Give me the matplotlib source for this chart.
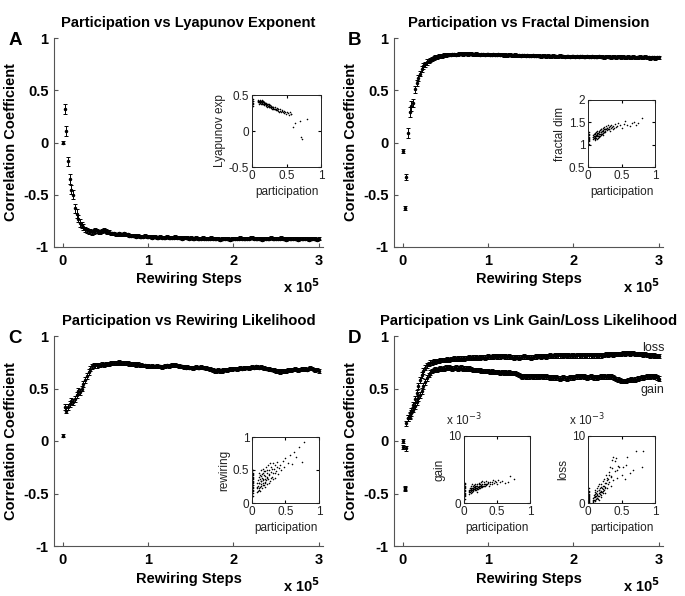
import numpy as np
import matplotlib
matplotlib.use('Agg')
import matplotlib.pyplot as plt

plt.rcParams['font.family'] = ['Liberation Sans', 'DejaVu Sans']

# rewiring step of each sample (every 2000 steps)
steps = np.arange(151) * 2000

lyap_mean = [
    0.00, 0.32, 0.11, -0.18, -0.35, -0.45, -0.50, -0.63, -0.68, -0.73, -0.77, -0.79, -0.81, -0.83, -0.84, -0.85, -0.85, -0.86, -0.85, -0.84,
    -0.85, -0.86, -0.86, -0.85, -0.84, -0.85, -0.86, -0.86, -0.87, -0.87, -0.87, -0.88, -0.88, -0.87, -0.88, -0.88, -0.87, -0.88, -0.88, -0.89,
    -0.89, -0.89, -0.89, -0.90, -0.89, -0.90, -0.90, -0.90, -0.89, -0.90, -0.90, -0.90, -0.91, -0.90, -0.90, -0.91, -0.91, -0.90, -0.91, -0.91,
    -0.91, -0.90, -0.91, -0.91, -0.91, -0.91, -0.90, -0.91, -0.91, -0.91, -0.92, -0.91, -0.91, -0.91, -0.92, -0.91, -0.92, -0.92, -0.91, -0.92,
    -0.92, -0.92, -0.91, -0.92, -0.92, -0.92, -0.92, -0.91, -0.92, -0.92, -0.92, -0.92, -0.93, -0.92, -0.92, -0.92, -0.92, -0.92, -0.93, -0.92,
    -0.92, -0.92, -0.92, -0.92, -0.91, -0.92, -0.92, -0.92, -0.92, -0.92, -0.91, -0.91, -0.92, -0.92, -0.92, -0.92, -0.92, -0.93, -0.92, -0.92,
    -0.92, -0.92, -0.91, -0.92, -0.92, -0.92, -0.92, -0.92, -0.91, -0.92, -0.92, -0.93, -0.92, -0.92, -0.92, -0.92, -0.92, -0.92, -0.93, -0.92,
    -0.92, -0.92, -0.92, -0.92, -0.93, -0.92, -0.92, -0.92, -0.92, -0.93, -0.92]
lyap_err = [
    0.015, 0.045, 0.05, 0.045, 0.045, 0.045, 0.045, 0.04, 0.04, 0.035, 0.035, 0.03, 0.03, 0.025, 0.025, 0.022, 0.022, 0.022, 0.022, 0.022,
    0.02, 0.02, 0.02, 0.02, 0.02, 0.018, 0.018, 0.018, 0.016, 0.016, 0.016, 0.016, 0.016, 0.016, 0.016, 0.016, 0.016, 0.016, 0.016, 0.016,
    0.016, 0.016, 0.016, 0.016, 0.016, 0.016, 0.016, 0.016, 0.016, 0.016, 0.016, 0.016, 0.016, 0.016, 0.016, 0.016, 0.016, 0.016, 0.016, 0.016,
    0.016, 0.016, 0.016, 0.016, 0.016, 0.016, 0.016, 0.016, 0.016, 0.016, 0.016, 0.016, 0.016, 0.016, 0.016, 0.016, 0.016, 0.016, 0.016, 0.016,
    0.016, 0.016, 0.016, 0.016, 0.016, 0.016, 0.016, 0.016, 0.016, 0.016, 0.016, 0.016, 0.016, 0.016, 0.016, 0.016, 0.016, 0.016, 0.016, 0.016,
    0.016, 0.016, 0.016, 0.016, 0.016, 0.016, 0.016, 0.016, 0.016, 0.016, 0.016, 0.016, 0.016, 0.016, 0.016, 0.016, 0.016, 0.016, 0.016, 0.016,
    0.016, 0.016, 0.016, 0.016, 0.016, 0.016, 0.016, 0.016, 0.016, 0.016, 0.016, 0.016, 0.016, 0.016, 0.016, 0.016, 0.016, 0.016, 0.016, 0.016,
    0.016, 0.016, 0.016, 0.016, 0.016, 0.016, 0.016, 0.016, 0.016, 0.016, 0.016]

frac_mean = [
    -0.08, -0.63, -0.33, 0.09, 0.29, 0.35, 0.38, 0.51, 0.57, 0.62, 0.66, 0.70, 0.73, 0.75, 0.77, 0.78, 0.79, 0.80, 0.81, 0.815,
    0.82, 0.825, 0.83, 0.83, 0.835, 0.835, 0.84, 0.84, 0.84, 0.845, 0.845, 0.84, 0.845, 0.85, 0.85, 0.845, 0.85, 0.85, 0.845, 0.85,
    0.85, 0.845, 0.845, 0.85, 0.845, 0.84, 0.845, 0.845, 0.84, 0.845, 0.845, 0.84, 0.84, 0.845, 0.84, 0.84, 0.845, 0.84, 0.84, 0.835,
    0.84, 0.835, 0.84, 0.84, 0.835, 0.835, 0.84, 0.835, 0.835, 0.83, 0.835, 0.835, 0.83, 0.835, 0.83, 0.83, 0.835, 0.83, 0.83, 0.83,
    0.83, 0.825, 0.83, 0.83, 0.825, 0.83, 0.825, 0.825, 0.83, 0.825, 0.825, 0.825, 0.83, 0.825, 0.825, 0.82, 0.825, 0.825, 0.82, 0.825,
    0.825, 0.82, 0.825, 0.82, 0.825, 0.825, 0.82, 0.82, 0.825, 0.82, 0.82, 0.825, 0.82, 0.82, 0.82, 0.825, 0.82, 0.82, 0.815, 0.82,
    0.82, 0.82, 0.815, 0.82, 0.82, 0.815, 0.82, 0.82, 0.815, 0.82, 0.815, 0.815, 0.82, 0.815, 0.815, 0.82, 0.815, 0.815, 0.815, 0.82,
    0.815, 0.815, 0.82, 0.815, 0.815, 0.81, 0.815, 0.815, 0.81, 0.815, 0.815]
frac_err = [
    0.02, 0.02, 0.025, 0.05, 0.045, 0.045, 0.04, 0.035, 0.03, 0.028, 0.028, 0.028, 0.028, 0.025, 0.025, 0.022, 0.022, 0.022, 0.022, 0.02,
    0.02, 0.018, 0.018, 0.018, 0.018, 0.016, 0.016, 0.016, 0.016, 0.016, 0.016, 0.016, 0.016, 0.016, 0.016, 0.016, 0.016, 0.016, 0.016, 0.016,
    0.016, 0.016, 0.016, 0.016, 0.016, 0.016, 0.016, 0.016, 0.016, 0.016, 0.016, 0.016, 0.016, 0.016, 0.016, 0.016, 0.016, 0.016, 0.016, 0.016,
    0.016, 0.016, 0.016, 0.016, 0.016, 0.016, 0.016, 0.016, 0.016, 0.016, 0.016, 0.016, 0.016, 0.016, 0.016, 0.016, 0.016, 0.016, 0.016, 0.016,
    0.016, 0.016, 0.016, 0.016, 0.016, 0.016, 0.016, 0.016, 0.016, 0.016, 0.016, 0.016, 0.016, 0.016, 0.016, 0.016, 0.016, 0.016, 0.016, 0.016,
    0.016, 0.016, 0.016, 0.016, 0.016, 0.016, 0.016, 0.016, 0.016, 0.016, 0.016, 0.016, 0.016, 0.016, 0.016, 0.016, 0.016, 0.016, 0.016, 0.016,
    0.016, 0.016, 0.016, 0.016, 0.016, 0.016, 0.016, 0.016, 0.016, 0.016, 0.016, 0.016, 0.016, 0.016, 0.016, 0.016, 0.016, 0.016, 0.016, 0.016,
    0.016, 0.016, 0.016, 0.016, 0.016, 0.016, 0.016, 0.016, 0.016, 0.016, 0.016]

rew_mean = [
    0.05, 0.32, 0.29, 0.32, 0.35, 0.38, 0.37, 0.40, 0.44, 0.48, 0.47, 0.50, 0.54, 0.58, 0.62, 0.66, 0.69, 0.71, 0.72, 0.72,
    0.72, 0.725, 0.72, 0.73, 0.725, 0.73, 0.735, 0.73, 0.74, 0.74, 0.745, 0.74, 0.745, 0.75, 0.745, 0.74, 0.74, 0.745, 0.74, 0.735,
    0.735, 0.73, 0.73, 0.725, 0.73, 0.72, 0.725, 0.72, 0.72, 0.715, 0.715, 0.71, 0.715, 0.71, 0.71, 0.715, 0.71, 0.71, 0.705, 0.71,
    0.715, 0.72, 0.715, 0.72, 0.725, 0.72, 0.725, 0.72, 0.715, 0.71, 0.71, 0.705, 0.70, 0.705, 0.70, 0.70, 0.695, 0.70, 0.705, 0.70,
    0.70, 0.705, 0.70, 0.70, 0.695, 0.69, 0.685, 0.68, 0.675, 0.67, 0.67, 0.675, 0.67, 0.67, 0.675, 0.68, 0.675, 0.68, 0.685, 0.685,
    0.69, 0.69, 0.685, 0.69, 0.695, 0.69, 0.695, 0.70, 0.70, 0.695, 0.70, 0.705, 0.70, 0.71, 0.705, 0.70, 0.705, 0.70, 0.695, 0.69,
    0.69, 0.685, 0.68, 0.68, 0.675, 0.67, 0.665, 0.66, 0.665, 0.67, 0.665, 0.67, 0.675, 0.68, 0.675, 0.68, 0.685, 0.68, 0.675, 0.68,
    0.685, 0.69, 0.685, 0.68, 0.69, 0.695, 0.69, 0.68, 0.675, 0.68, 0.67]
rew_err = [
    0.012, 0.028, 0.028, 0.028, 0.028, 0.028, 0.028, 0.028, 0.028, 0.028, 0.028, 0.028, 0.028, 0.028, 0.028, 0.028, 0.025, 0.022, 0.022, 0.022,
    0.02, 0.018, 0.018, 0.018, 0.018, 0.018, 0.018, 0.018, 0.018, 0.018, 0.018, 0.018, 0.018, 0.018, 0.018, 0.018, 0.018, 0.018, 0.018, 0.018,
    0.018, 0.018, 0.018, 0.018, 0.018, 0.018, 0.018, 0.018, 0.018, 0.018, 0.018, 0.018, 0.018, 0.018, 0.018, 0.018, 0.018, 0.018, 0.018, 0.018,
    0.018, 0.018, 0.018, 0.018, 0.018, 0.018, 0.018, 0.018, 0.018, 0.018, 0.018, 0.018, 0.018, 0.018, 0.018, 0.018, 0.018, 0.018, 0.018, 0.018,
    0.018, 0.018, 0.018, 0.018, 0.018, 0.018, 0.018, 0.018, 0.018, 0.018, 0.018, 0.018, 0.018, 0.018, 0.018, 0.018, 0.018, 0.018, 0.018, 0.018,
    0.018, 0.018, 0.018, 0.018, 0.018, 0.018, 0.018, 0.018, 0.018, 0.018, 0.018, 0.018, 0.018, 0.018, 0.018, 0.018, 0.018, 0.018, 0.018, 0.018,
    0.018, 0.018, 0.018, 0.018, 0.018, 0.018, 0.018, 0.018, 0.018, 0.018, 0.018, 0.018, 0.018, 0.018, 0.018, 0.018, 0.018, 0.018, 0.018, 0.018,
    0.018, 0.018, 0.018, 0.018, 0.018, 0.018, 0.018, 0.018, 0.018, 0.018, 0.018]

loss_mean = [
    0.00, -0.46, -0.07, 0.22, 0.25, 0.29, 0.34, 0.40, 0.46, 0.52, 0.58, 0.63, 0.67, 0.70, 0.72, 0.735, 0.745, 0.75, 0.755, 0.76,
    0.76, 0.765, 0.77, 0.77, 0.775, 0.775, 0.78, 0.775, 0.78, 0.78, 0.785, 0.78, 0.785, 0.79, 0.785, 0.79, 0.785, 0.79, 0.79, 0.795,
    0.79, 0.795, 0.80, 0.795, 0.79, 0.795, 0.80, 0.80, 0.795, 0.80, 0.805, 0.80, 0.80, 0.805, 0.81, 0.805, 0.80, 0.805, 0.81, 0.81,
    0.805, 0.80, 0.805, 0.80, 0.80, 0.795, 0.80, 0.80, 0.795, 0.80, 0.80, 0.805, 0.80, 0.80, 0.80, 0.795, 0.80, 0.80, 0.805, 0.81,
    0.81, 0.805, 0.81, 0.81, 0.805, 0.81, 0.815, 0.81, 0.81, 0.815, 0.81, 0.815, 0.815, 0.81, 0.815, 0.82, 0.815, 0.815, 0.81, 0.815,
    0.815, 0.81, 0.815, 0.815, 0.81, 0.815, 0.815, 0.82, 0.815, 0.815, 0.815, 0.81, 0.815, 0.815, 0.82, 0.815, 0.815, 0.82, 0.82, 0.825,
    0.82, 0.825, 0.825, 0.82, 0.825, 0.83, 0.825, 0.83, 0.83, 0.835, 0.83, 0.835, 0.835, 0.83, 0.835, 0.835, 0.83, 0.83, 0.825, 0.83,
    0.825, 0.82, 0.825, 0.82, 0.82, 0.815, 0.82, 0.815, 0.81, 0.81, 0.81]
gain_mean = [
    -0.06, -0.45, 0.17, 0.22, 0.24, 0.27, 0.30, 0.33, 0.37, 0.41, 0.44, 0.48, 0.52, 0.56, 0.60, 0.63, 0.65, 0.665, 0.675, 0.68,
    0.68, 0.685, 0.69, 0.685, 0.69, 0.70, 0.695, 0.70, 0.695, 0.69, 0.695, 0.70, 0.69, 0.695, 0.70, 0.69, 0.695, 0.69, 0.685, 0.69,
    0.685, 0.68, 0.68, 0.675, 0.68, 0.675, 0.67, 0.67, 0.665, 0.67, 0.665, 0.66, 0.665, 0.66, 0.655, 0.66, 0.655, 0.65, 0.655, 0.65,
    0.655, 0.65, 0.655, 0.65, 0.645, 0.65, 0.645, 0.64, 0.63, 0.62, 0.615, 0.62, 0.615, 0.61, 0.615, 0.62, 0.615, 0.61, 0.615, 0.62,
    0.615, 0.62, 0.615, 0.61, 0.615, 0.61, 0.605, 0.61, 0.605, 0.60, 0.605, 0.60, 0.595, 0.60, 0.605, 0.60, 0.595, 0.60, 0.605, 0.60,
    0.605, 0.61, 0.615, 0.61, 0.615, 0.62, 0.615, 0.61, 0.605, 0.61, 0.615, 0.61, 0.605, 0.60, 0.605, 0.61, 0.615, 0.62, 0.615, 0.61,
    0.615, 0.62, 0.615, 0.61, 0.60, 0.59, 0.585, 0.58, 0.575, 0.57, 0.57, 0.575, 0.58, 0.58, 0.585, 0.58, 0.585, 0.59, 0.595, 0.60,
    0.605, 0.60, 0.61, 0.615, 0.62, 0.615, 0.62, 0.61, 0.62, 0.605, 0.595]
link_err = [
    0.02, 0.02, 0.025, 0.028, 0.028, 0.028, 0.028, 0.028, 0.028, 0.028, 0.028, 0.028, 0.028, 0.028, 0.025, 0.022, 0.022, 0.022, 0.022, 0.022,
    0.02, 0.02, 0.02, 0.02, 0.02, 0.02, 0.02, 0.02, 0.02, 0.02, 0.02, 0.02, 0.02, 0.02, 0.02, 0.02, 0.02, 0.02, 0.02, 0.02,
    0.02, 0.02, 0.02, 0.02, 0.02, 0.02, 0.02, 0.02, 0.02, 0.02, 0.02, 0.02, 0.02, 0.02, 0.02, 0.02, 0.02, 0.02, 0.02, 0.02,
    0.02, 0.02, 0.02, 0.02, 0.02, 0.02, 0.02, 0.02, 0.02, 0.02, 0.02, 0.02, 0.02, 0.02, 0.02, 0.02, 0.02, 0.02, 0.02, 0.02,
    0.02, 0.02, 0.02, 0.02, 0.02, 0.02, 0.02, 0.02, 0.02, 0.02, 0.02, 0.02, 0.02, 0.02, 0.02, 0.02, 0.02, 0.02, 0.02, 0.02,
    0.02, 0.02, 0.02, 0.02, 0.02, 0.02, 0.02, 0.02, 0.02, 0.02, 0.02, 0.02, 0.02, 0.02, 0.02, 0.02, 0.02, 0.02, 0.02, 0.02,
    0.02, 0.02, 0.02, 0.02, 0.02, 0.02, 0.02, 0.02, 0.02, 0.02, 0.02, 0.02, 0.02, 0.02, 0.02, 0.02, 0.02, 0.02, 0.02, 0.02,
    0.02, 0.02, 0.02, 0.02, 0.02, 0.02, 0.02, 0.02, 0.02, 0.02, 0.02]

# inset scatters: (participation, value)
lyap_pts = [
    (0.01, 0.42), (0.01, 0.39), (0.02, 0.37), (0.01, 0.35), (0.02, 0.41), (0.01, 0.44),
    (0.08, 0.43), (0.09, 0.41), (0.10, 0.42), (0.10, 0.40), (0.11, 0.43), (0.12, 0.41), (0.12, 0.39), (0.13, 0.42),
    (0.13, 0.40), (0.14, 0.38), (0.14, 0.41), (0.15, 0.39), (0.15, 0.42), (0.16, 0.38), (0.16, 0.40), (0.17, 0.37),
    (0.17, 0.40), (0.18, 0.38), (0.18, 0.36), (0.19, 0.39), (0.20, 0.37), (0.20, 0.35), (0.21, 0.38), (0.22, 0.36),
    (0.22, 0.34), (0.23, 0.37), (0.24, 0.35), (0.24, 0.33), (0.25, 0.36), (0.26, 0.34), (0.27, 0.32), (0.28, 0.35),
    (0.28, 0.33), (0.29, 0.31), (0.30, 0.34), (0.31, 0.32), (0.32, 0.30), (0.33, 0.33), (0.34, 0.31), (0.35, 0.29),
    (0.36, 0.32), (0.37, 0.30), (0.38, 0.28), (0.40, 0.30), (0.41, 0.28), (0.43, 0.29), (0.45, 0.27), (0.47, 0.28),
    (0.48, 0.26), (0.50, 0.27), (0.52, 0.25), (0.55, 0.26), (0.57, 0.24), (0.60, 0.06), (0.62, 0.11), (0.69, 0.14),
    (0.71, -0.09), (0.72, -0.11), (0.79, 0.17), (0.11, 0.40), (0.12, 0.42), (0.14, 0.43), (0.09, 0.40), (0.10, 0.38),
    (0.09, 0.42), (0.11, 0.39), (0.13, 0.38), (0.15, 0.40), (0.16, 0.42), (0.17, 0.39), (0.18, 0.40), (0.19, 0.37),
    (0.20, 0.39), (0.21, 0.36), (0.22, 0.38), (0.23, 0.35), (0.24, 0.37), (0.25, 0.34), (0.26, 0.36), (0.27, 0.35),
    (0.29, 0.33), (0.30, 0.31), (0.31, 0.34), (0.33, 0.31), (0.35, 0.31), (0.36, 0.29), (0.38, 0.31), (0.39, 0.27),
    (0.42, 0.26), (0.44, 0.28), (0.46, 0.25), (0.49, 0.24), (0.53, 0.22), (0.56, 0.23)]
frac_pts = [
    (0.01, 1.02), (0.01, 1.08), (0.01, 1.13), (0.01, 1.18), (0.01, 1.24), (0.02, 1.10), (0.01, 1.28),
    (0.07, 1.18), (0.08, 1.12), (0.08, 1.22), (0.09, 1.15), (0.09, 1.25), (0.10, 1.20), (0.10, 1.13), (0.11, 1.27),
    (0.11, 1.18), (0.12, 1.22), (0.12, 1.14), (0.13, 1.25), (0.13, 1.19), (0.14, 1.30), (0.14, 1.21), (0.15, 1.16),
    (0.15, 1.26), (0.16, 1.23), (0.16, 1.31), (0.17, 1.19), (0.17, 1.28), (0.18, 1.24), (0.18, 1.33), (0.19, 1.21),
    (0.20, 1.29), (0.20, 1.35), (0.21, 1.25), (0.22, 1.31), (0.22, 1.38), (0.23, 1.27), (0.24, 1.34), (0.24, 1.40),
    (0.25, 1.30), (0.26, 1.36), (0.27, 1.42), (0.28, 1.32), (0.29, 1.38), (0.30, 1.44), (0.31, 1.35), (0.32, 1.40),
    (0.33, 1.30), (0.34, 1.45), (0.35, 1.37), (0.37, 1.42), (0.38, 1.34), (0.40, 1.46), (0.42, 1.40), (0.45, 1.48),
    (0.48, 1.43), (0.50, 1.38), (0.53, 1.47), (0.58, 1.45), (0.63, 1.42), (0.68, 1.50), (0.72, 1.44), (0.75, 1.48),
    (0.81, 1.60), (0.10, 1.10), (0.12, 1.28), (0.14, 1.12), (0.19, 1.36), (0.23, 1.22), (0.26, 1.28),
    (0.08, 1.17), (0.09, 1.20), (0.10, 1.24), (0.11, 1.14), (0.12, 1.19), (0.13, 1.22), (0.14, 1.26), (0.15, 1.20),
    (0.16, 1.18), (0.17, 1.24), (0.18, 1.20), (0.19, 1.28), (0.20, 1.24), (0.21, 1.31), (0.22, 1.27), (0.23, 1.33),
    (0.24, 1.29), (0.25, 1.36), (0.27, 1.34), (0.28, 1.38), (0.30, 1.36), (0.32, 1.34), (0.33, 1.41), (0.36, 1.40),
    (0.39, 1.38), (0.01, 1.15), (0.01, 1.21), (0.44, 1.42), (0.55, 1.52), (0.65, 1.48)]
rew_pts = [
    (0.01, 0.10), (0.01, 0.15), (0.01, 0.20), (0.01, 0.25), (0.01, 0.30), (0.01, 0.34), (0.01, 0.38), (0.01, 0.42),
    (0.01, 0.46), (0.02, 0.28), (0.02, 0.36),
    (0.07, 0.22), (0.08, 0.30), (0.08, 0.16), (0.09, 0.35), (0.09, 0.26), (0.10, 0.40), (0.10, 0.20), (0.11, 0.31),
    (0.11, 0.45), (0.12, 0.25), (0.12, 0.36), (0.13, 0.29), (0.13, 0.50), (0.14, 0.33), (0.14, 0.41), (0.15, 0.22),
    (0.15, 0.38), (0.16, 0.46), (0.16, 0.30), (0.17, 0.35), (0.17, 0.52), (0.18, 0.27), (0.18, 0.42), (0.19, 0.37),
    (0.20, 0.48), (0.20, 0.32), (0.21, 0.55), (0.22, 0.40), (0.22, 0.29), (0.23, 0.45), (0.24, 0.36), (0.24, 0.58),
    (0.25, 0.42), (0.26, 0.50), (0.27, 0.33), (0.28, 0.47), (0.29, 0.55), (0.30, 0.40), (0.31, 0.60), (0.32, 0.45),
    (0.33, 0.52), (0.34, 0.38), (0.35, 0.57), (0.36, 0.48), (0.38, 0.62), (0.39, 0.44), (0.40, 0.53), (0.42, 0.58),
    (0.44, 0.50), (0.46, 0.63), (0.48, 0.55), (0.50, 0.68), (0.53, 0.60), (0.57, 0.72), (0.60, 0.59), (0.62, 0.77),
    (0.66, 0.70), (0.70, 0.85), (0.74, 0.62), (0.78, 0.92), (0.12, 0.18), (0.19, 0.24), (0.27, 0.60),
    (0.01, 0.18), (0.01, 0.23), (0.01, 0.28), (0.01, 0.32), (0.01, 0.40), (0.01, 0.44), (0.01, 0.50), (0.08, 0.24),
    (0.09, 0.18), (0.10, 0.30), (0.11, 0.22), (0.12, 0.42), (0.13, 0.34), (0.14, 0.26), (0.15, 0.44), (0.16, 0.36),
    (0.17, 0.28), (0.18, 0.48), (0.19, 0.31), (0.20, 0.41), (0.21, 0.35), (0.22, 0.50), (0.23, 0.38), (0.25, 0.30),
    (0.26, 0.44), (0.28, 0.38), (0.30, 0.52), (0.32, 0.36), (0.35, 0.46), (0.37, 0.54)]
# gain / loss in units of 1e-3
gain_pts = [
    (0.01, 0.6), (0.01, 1.0), (0.01, 1.4), (0.01, 1.8), (0.01, 2.2), (0.01, 2.6), (0.01, 3.0), (0.02, 1.5), (0.02, 2.0),
    (0.07, 1.6), (0.08, 2.0), (0.08, 1.3), (0.09, 2.3), (0.09, 1.7), (0.10, 2.1), (0.10, 1.5), (0.11, 2.5), (0.11, 1.9),
    (0.12, 2.2), (0.12, 1.6), (0.13, 2.6), (0.13, 2.0), (0.14, 2.3), (0.14, 1.8), (0.15, 2.7), (0.15, 2.1), (0.16, 2.4),
    (0.16, 1.9), (0.17, 2.8), (0.17, 2.2), (0.18, 2.5), (0.18, 2.0), (0.19, 2.9), (0.20, 2.3), (0.20, 2.6), (0.21, 2.1),
    (0.22, 2.8), (0.22, 2.4), (0.23, 3.0), (0.24, 2.5), (0.24, 2.2), (0.25, 2.7), (0.26, 3.1), (0.27, 2.4), (0.28, 2.8),
    (0.29, 2.6), (0.30, 3.2), (0.31, 2.5), (0.32, 2.9), (0.33, 2.7), (0.34, 3.3), (0.35, 2.8), (0.37, 3.0), (0.38, 2.6),
    (0.40, 3.1), (0.42, 2.9), (0.44, 3.4), (0.46, 3.0), (0.48, 3.2), (0.50, 2.8), (0.52, 3.5), (0.55, 3.1), (0.58, 3.3),
    (0.62, 3.0), (0.67, 3.1), (0.70, 4.0), (0.75, 3.6), (0.12, 2.9), (0.19, 1.7), (0.27, 3.3),
    (0.01, 1.2), (0.01, 2.4), (0.01, 2.8), (0.08, 1.8), (0.09, 2.0), (0.10, 1.8), (0.11, 2.2), (0.12, 1.9),
    (0.13, 2.3), (0.14, 2.1), (0.15, 2.4), (0.16, 2.1), (0.17, 2.5), (0.18, 2.3), (0.19, 2.6), (0.20, 2.1),
    (0.21, 2.4), (0.22, 2.6), (0.23, 2.3), (0.24, 2.8), (0.25, 2.4), (0.26, 2.6), (0.28, 2.5), (0.30, 2.8),
    (0.32, 2.6), (0.34, 2.9), (0.36, 3.1), (0.39, 2.8), (0.43, 3.1), (0.47, 3.3)]
loss_pts = [
    (0.01, 0.2), (0.01, 0.5), (0.01, 0.8), (0.01, 1.1), (0.01, 1.4), (0.01, 1.8), (0.01, 2.2), (0.02, 0.6), (0.02, 1.2),
    (0.07, 0.3), (0.08, 0.8), (0.08, 0.1), (0.09, 1.2), (0.09, 0.5), (0.10, 1.6), (0.10, 0.9), (0.11, 0.3), (0.11, 1.9),
    (0.12, 1.1), (0.12, 0.6), (0.13, 2.2), (0.13, 1.4), (0.14, 0.8), (0.14, 1.8), (0.15, 2.5), (0.15, 1.0), (0.16, 1.5),
    (0.16, 0.4), (0.17, 2.0), (0.17, 2.8), (0.18, 1.3), (0.18, 2.3), (0.19, 0.9), (0.20, 1.8), (0.20, 2.9), (0.21, 2.2),
    (0.22, 1.5), (0.22, 3.3), (0.23, 2.6), (0.24, 1.9), (0.24, 3.6), (0.25, 2.4), (0.26, 3.0), (0.27, 4.2), (0.28, 2.2),
    (0.29, 3.5), (0.30, 2.8), (0.31, 4.6), (0.32, 3.2), (0.33, 5.4), (0.34, 2.6), (0.35, 4.0), (0.36, 6.4), (0.37, 3.4),
    (0.38, 6.9), (0.40, 4.8), (0.42, 6.7), (0.43, 3.8), (0.45, 5.5), (0.47, 5.4), (0.50, 4.2), (0.52, 5.4), (0.55, 3.6),
    (0.57, 5.6), (0.58, 6.9), (0.62, 4.5), (0.67, 4.9), (0.72, 7.7), (0.80, 5.4), (0.82, 7.7), (0.11, 1.4), (0.19, 1.6),
    (0.01, 0.3), (0.01, 0.9), (0.01, 1.6), (0.08, 0.5), (0.09, 0.9), (0.10, 0.4), (0.11, 1.0), (0.12, 1.5),
    (0.13, 0.7), (0.14, 1.2), (0.15, 0.6), (0.16, 1.9), (0.17, 1.1), (0.18, 1.7), (0.19, 2.4), (0.20, 1.2),
    (0.21, 1.6), (0.22, 2.1), (0.23, 1.8), (0.24, 2.6), (0.25, 1.5), (0.26, 2.2), (0.27, 3.0), (0.28, 3.8),
    (0.30, 3.6), (0.32, 4.2), (0.34, 3.9), (0.36, 5.2), (0.40, 6.3), (0.44, 5.0)]

main_yticks = [-1, -0.5, 0, 0.5, 1]
main_ylabels = ['-1', '-0.5', '0', '0.5', '1']
main_xticks = [0, 100000, 200000, 300000]
main_xlabels = ['0', '1', '2', '3']

W, H = 685, 596
fig = plt.figure(figsize=(6.85, 5.96), dpi=100)


def px_rect(l, t, r, b):
    return [l / W, 1 - b / H, (r - l) / W, (b - t) / H]


def main_axes(rect, title, letter):
    ax = fig.add_axes(rect)
    ax.set_xlim(-10500, 305000)
    ax.set_ylim(-1, 1)
    for s in ['top', 'right']:
        ax.spines[s].set_visible(False)
    for s in ['left', 'bottom']:
        ax.spines[s].set_color('#555555')
        ax.spines[s].set_linewidth(0.8)
    ax.set_yticks(main_yticks)
    ax.set_yticklabels(main_ylabels, fontweight='bold', fontsize=10.5)
    ax.set_xticks(main_xticks)
    ax.set_xticklabels(main_xlabels, fontweight='bold', fontsize=10.5)
    ax.tick_params(direction='in', length=3, color='#555555', pad=4)
    ax.tick_params(axis='x', pad=5)
    ax.set_ylabel('Correlation Coefficient', fontweight='bold', fontsize=10.5)
    ax.yaxis.set_label_coords(-0.134, 0.5)
    ax.set_xlabel('Rewiring Steps', fontweight='bold', fontsize=10.5)
    ax.xaxis.set_label_coords(0.5, -0.122)
    ax.set_title(title, fontweight='bold', fontsize=10.6, pad=8)
    ax.text(0.99, -0.19, r'x 10$^{\mathbf{5}}$', transform=ax.transAxes, ha='right', va='center',
            fontweight='bold', fontsize=10.5)
    ax.text(-0.145, 0.99, letter, transform=ax.transAxes, ha='center', va='center',
            fontweight='bold', fontsize=13.5)
    return ax


def draw_series(ax, y, err):
    ax.errorbar(steps, y, yerr=err, fmt='.', color='k', ms=3, elinewidth=0.7,
                capsize=1.5, capthick=0.7)


def inset(rect, pts, ylim, yticks, ylabels, ylabel, exp_label=False):
    ax = fig.add_axes(rect)
    pts = np.array(pts)
    ax.scatter(pts[:, 0], pts[:, 1], s=1.3, color='k', linewidths=0)
    ax.set_xlim(0, 1)
    ax.set_ylim(*ylim)
    ax.set_xticks([0, 0.5, 1])
    ax.set_xticklabels(['0', '0.5', '1'], fontsize=8.5, color='#222222')
    ax.set_yticks(yticks)
    ax.set_yticklabels(ylabels, fontsize=8.5, color='#222222')
    ax.tick_params(direction='in', length=2, top=True, right=True, pad=2)
    for s in ax.spines.values():
        s.set_linewidth(0.7)
        s.set_color('#222222')
    ax.set_xlabel('participation', fontsize=8.5, color='#222222', labelpad=3)
    ax.set_ylabel(ylabel, fontsize=8.5, color='#222222', labelpad=2)
    if exp_label:
        ax.text(-0.28, 1.24, r'x 10$^{-3}$', transform=ax.transAxes, ha='left', va='center',
                fontsize=8.5, color='#222222')
    return ax


axA = main_axes(px_rect(54, 38, 323, 247), 'Participation vs Lyapunov Exponent', 'A')
draw_series(axA, lyap_mean, lyap_err)
axB = main_axes(px_rect(394, 38, 663, 247), 'Participation vs Fractal Dimension', 'B')
draw_series(axB, frac_mean, frac_err)
axC = main_axes(px_rect(54, 336, 323, 546), 'Participation vs Rewiring Likelihood', 'C')
draw_series(axC, rew_mean, rew_err)
axD = main_axes(px_rect(394, 336, 663, 546), 'Participation vs Link Gain/Loss Likelihood', 'D')
draw_series(axD, loss_mean, link_err)
draw_series(axD, gain_mean, link_err)
axD.text(307000, 0.885, 'loss', ha='right', va='center', fontsize=9, color='#222222')
axD.text(307000, 0.49, 'gain', ha='right', va='center', fontsize=9, color='#222222')

inset(px_rect(252, 95, 321, 167), lyap_pts, (-0.5, 0.5), [-0.5, 0, 0.5], ['-0.5', '0', '0.5'], 'Lyapunov exp')
inset(px_rect(588, 100, 655, 167), frac_pts, (0.5, 2), [0.5, 1, 1.5, 2], ['0.5', '1', '1.5', '2'], 'fractal dim')
inset(px_rect(252, 437, 319, 503), rew_pts, (0, 1), [0, 0.5, 1], ['0', '0.5', '1'], 'rewiring')
inset(px_rect(464, 436, 530, 503), gain_pts, (0, 10), [0, 10], ['0', '10'], 'gain', exp_label=True)
inset(px_rect(588, 436, 655, 503), loss_pts, (0, 10), [0, 10], ['0', '10'], 'loss', exp_label=True)

fig.savefig('out.png', dpi=100)
